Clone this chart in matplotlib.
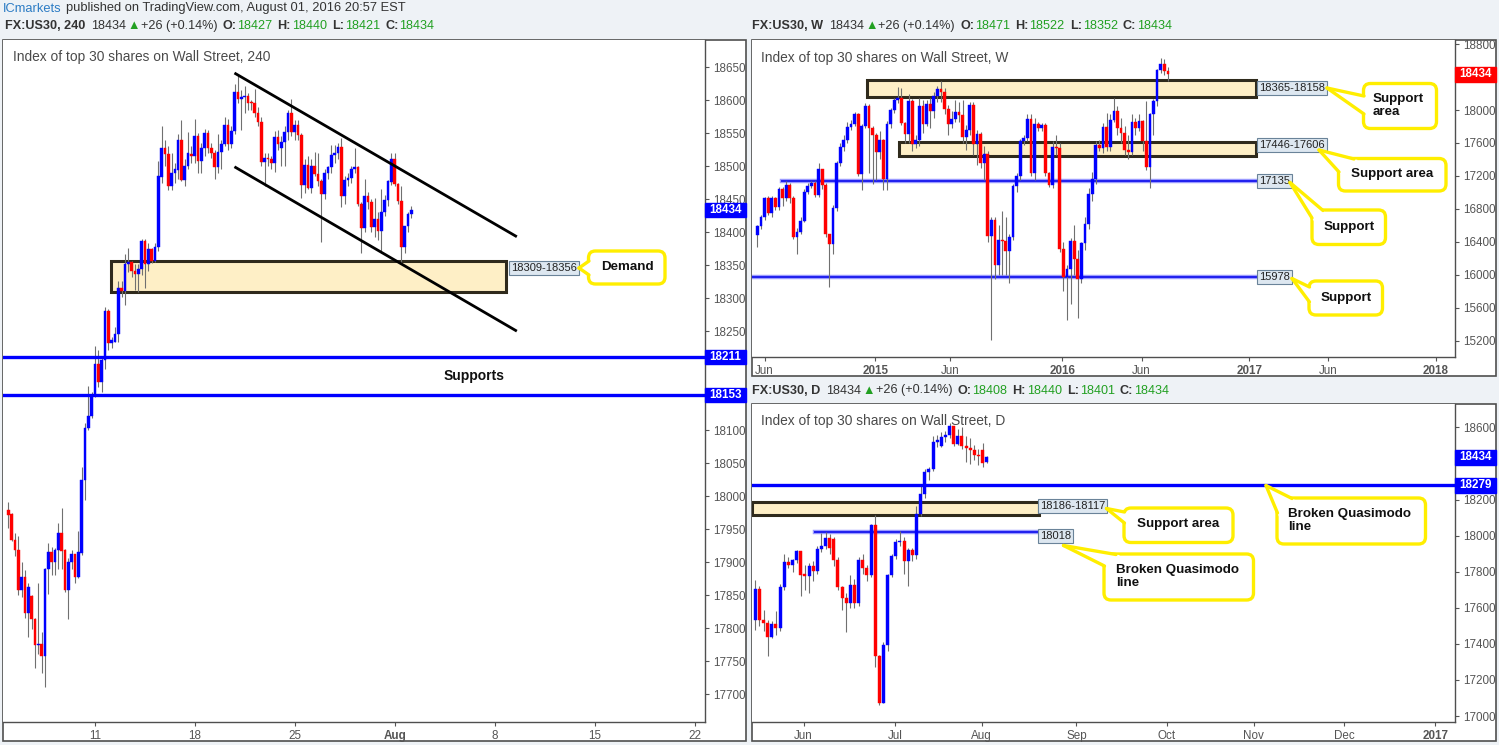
import matplotlib
matplotlib.use('Agg')
import matplotlib.pyplot as plt
from matplotlib.patches import Rectangle, FancyBboxPatch, Polygon
from matplotlib.lines import Line2D
import matplotlib.transforms as mtransforms
import numpy as np

plt.rcParams['font.family'] = ['Liberation Sans', 'DejaVu Sans']

# ---------------- DATA ----------------
# 4-hour chart (Jul 6 - Aug 1 2016)
h4_open = [17979, 17973, 17934, 17919, 17858, 17877, 17823, 17849, 17814, 17774, 17776, 17758, 17889, 17916, 17900,
           17918, 17945, 17918, 17858, 17901, 17912, 17878, 17914, 18025, 18104, 18121, 18154, 18201, 18173, 18206,
           18280, 18232, 18234, 18245, 18315, 18311, 18351, 18355, 18341, 18337, 18344, 18386, 18351, 18374, 18356,
           18377, 18484, 18527, 18518, 18470, 18490, 18494, 18539, 18479, 18500, 18519, 18516, 18545, 18508, 18527,
           18550, 18528, 18520, 18499, 18522, 18534, 18562, 18534, 18553, 18612, 18601, 18604, 18606, 18596, 18595,
           18581, 18567, 18506, 18513, 18510, 18504, 18544, 18528, 18537, 18551, 18580, 18551, 18562, 18547, 18471,
           18502, 18467, 18500, 18488, 18478, 18457, 18490, 18498, 18517, 18520, 18529, 18455, 18479, 18482, 18495,
           18499, 18443, 18407, 18454, 18446, 18408, 18420, 18402, 18430, 18448, 18476, 18511, 18473, 18447, 18377,
           18409, 18427]
h4_high = [17991, 17975, 17944, 17939, 17900, 17888, 17868, 17851, 17816, 17869, 17794, 17892, 17929, 17923, 17922,
           17960, 17982, 17920, 17906, 17919, 17913, 17947, 18044, 18111, 18167, 18158, 18227, 18222, 18211, 18286,
           18283, 18241, 18257, 18326, 18326, 18367, 18376, 18356, 18351, 18351, 18389, 18389, 18383, 18376, 18383,
           18508, 18561, 18540, 18530, 18520, 18505, 18548, 18570, 18510, 18552, 18530, 18571, 18550, 18535, 18556,
           18555, 18535, 18525, 18549, 18540, 18574, 18572, 18560, 18625, 18638, 18615, 18621, 18610, 18600, 18617,
           18590, 18575, 18520, 18520, 18515, 18553, 18555, 18545, 18561, 18585, 18601, 18570, 18570, 18550, 18510,
           18515, 18510, 18522, 18520, 18480, 18495, 18500, 18532, 18532, 18535, 18543, 18485, 18490, 18500, 18527,
           18500, 18445, 18480, 18461, 18450, 18452, 18430, 18466, 18456, 18479, 18520, 18520, 18475, 18470, 18410,
           18430, 18440]
h4_low = [17952, 17932, 17909, 17850, 17847, 17815, 17787, 17799, 17740, 17761, 17732, 17711, 17852, 17881, 17880,
          17890, 17890, 17855, 17814, 17889, 17868, 17876, 17911, 17994, 18100, 18118, 18151, 18165, 18158, 18192,
          18221, 18224, 18233, 18234, 18302, 18290, 18340, 18332, 18312, 18310, 18335, 18316, 18341, 18353, 18354,
          18372, 18474, 18500, 18464, 18464, 18475, 18480, 18477, 18470, 18495, 18505, 18505, 18490, 18490, 18515,
          18520, 18512, 18481, 18490, 18495, 18530, 18525, 18528, 18548, 18595, 18555, 18580, 18585, 18585, 18575,
          18560, 18500, 18470, 18500, 18495, 18491, 18525, 18500, 18500, 18540, 18545, 18540, 18540, 18452, 18460,
          18465, 18460, 18485, 18470, 18385, 18450, 18480, 18490, 18505, 18510, 18438, 18443, 18470, 18475, 18490,
          18440, 18368, 18400, 18435, 18400, 18393, 18388, 18368, 18425, 18440, 18471, 18470, 18443, 18353, 18368,
          18400, 18421]
h4_close = [17971, 17933, 17919, 17858, 17877, 17823, 17863, 17814, 17774, 17776, 17758, 17889, 17916, 17900, 17918,
            17945, 17917, 17858, 17901, 17912, 17878, 17915, 18025, 18104, 18121, 18154, 18201, 18173, 18206, 18280,
            18232, 18236, 18245, 18315, 18311, 18351, 18355, 18341, 18337, 18344, 18386, 18351, 18374, 18356, 18377,
            18485, 18527, 18518, 18470, 18490, 18495, 18539, 18479, 18500, 18520, 18516, 18545, 18508, 18527, 18550,
            18528, 18520, 18499, 18522, 18534, 18562, 18534, 18553, 18612, 18601, 18604, 18606, 18596, 18595, 18581,
            18567, 18506, 18513, 18510, 18504, 18544, 18534, 18537, 18551, 18580, 18551, 18562, 18547, 18471, 18502,
            18467, 18500, 18488, 18478, 18457, 18490, 18498, 18517, 18520, 18529, 18455, 18479, 18482, 18495, 18499,
            18443, 18407, 18454, 18446, 18408, 18420, 18402, 18430, 18448, 18478, 18511, 18473, 18447, 18377, 18409,
            18427, 18434]
h4_xticks = ['11', '18', '25', 'Aug', '8', '15', '22']
h4_yticks = list(range(17700, 18651, 50))

# Weekly chart (Jun 2014 - Aug 2016)
wk_open = [16478, 16595, 16697, 16928, 16750, 16928, 16823, 17038, 16928, 17087, 16928, 16457, 16514, 16656, 17001,
           17074, 17111, 16965, 17286, 17087, 16494, 16372, 16806, 17355, 17550, 17635, 17793, 17830, 17947, 17225,
           17805, 18049, 17785, 17696, 17493, 17635, 17168, 17826, 17996, 18118, 18150, 17846, 17712, 18110, 17582,
           17640, 18049, 17826, 18077, 17988, 18171, 18252, 18223, 18016, 17826, 17887, 17976, 17939, 17671, 17753,
           18061, 17582, 17704, 17359, 17472, 16474, 16669, 16120, 16425, 16405, 16291, 16457, 17074, 17196, 17623,
           17663, 17887, 17237, 17826, 17785, 17813, 17237, 17087, 17550, 17533, 16315, 15978, 16072, 16413, 16193,
           15950, 16384, 16612, 16977, 17168, 17574, 17541, 17793, 17550, 17882, 17988, 17777, 17724, 17517, 17493,
           17854, 17785, 17866, 17623, 17310, 17947, 18110, 18483, 18560, 18471]
wk_high = [16610, 16720, 16950, 16960, 16960, 16950, 17060, 17060, 17135, 17120, 16960, 16570, 16700, 17040, 17110,
           17140, 17140, 17359, 17290, 17110, 16500, 16850, 17380, 17600, 17700, 17850, 17880, 17980, 17960, 17830,
           18080, 18070, 17800, 17720, 17750, 17650, 17870, 18020, 18140, 18280, 18270, 17860, 18200, 18130, 17700,
           18150, 18120, 18120, 18150, 18220, 18290, 18351, 18270, 18060, 17990, 18120, 18100, 18120, 17820, 18100,
           18100, 17760, 17730, 17560, 17500, 16700, 16700, 16600, 16780, 16700, 16500, 17100, 17230, 17650, 17700,
           17950, 17950, 17900, 17860, 17840, 17840, 17250, 17630, 17700, 17600, 16400, 16120, 16450, 16600, 16300,
           16400, 16700, 17050, 17250, 17620, 17640, 17840, 17960, 17950, 18150, 18050, 17900, 17800, 17700, 17950,
           17900, 17950, 17880, 18110, 17960, 18130, 18500, 18628, 18622, 18522]
wk_low = [16336, 16560, 16660, 16720, 16700, 16790, 16790, 16830, 16900, 16870, 16430, 16250, 16490, 16640, 16980,
          17050, 16940, 16940, 17040, 16460, 15848, 16250, 16780, 17320, 17500, 17600, 17760, 17800, 17200, 17034,
          17780, 17237, 17100, 17150, 17400, 17034, 17030, 17780, 17960, 18080, 17820, 17600, 17600, 17500, 17540,
          17560, 17720, 17800, 17780, 17900, 18100, 18100, 17950, 17700, 17780, 17860, 17850, 17600, 17520, 17700,
          17460, 17330, 17300, 17150, 16400, 15205, 15950, 16000, 16000, 16000, 15897, 16420, 17000, 17150, 17580,
          17620, 17200, 17150, 17750, 17740, 17200, 17070, 17050, 17450, 16280, 15800, 15450, 15650, 16000, 15471,
          15900, 16300, 16550, 16900, 17100, 17500, 17480, 17500, 17500, 17850, 17700, 17600, 17450, 17400, 17450,
          17700, 17750, 17500, 17278, 17054, 17700, 18050, 18450, 18420, 18352]
wk_close = [16595, 16697, 16928, 16750, 16928, 16823, 17038, 16928, 17087, 16928, 16457, 16514, 16656, 17001, 17074,
            17111, 16965, 17286, 17087, 16494, 16372, 16806, 17355, 17550, 17635, 17793, 17830, 17947, 17225, 17805,
            18049, 17785, 17696, 17493, 17635, 17168, 17826, 17996, 18118, 18150, 17846, 17712, 18110, 17582, 17640,
            18049, 17826, 18069, 17988, 18171, 18252, 18223, 18016, 17826, 17887, 17976, 17939, 17671, 17753, 18061,
            17582, 17704, 17359, 17472, 16474, 16669, 16120, 16425, 16405, 16291, 16457, 17074, 17196, 17623, 17663,
            17887, 17237, 17826, 17785, 17813, 17237, 17087, 17550, 17533, 16315, 15978, 16072, 16413, 16193, 15950,
            16384, 16612, 16977, 17168, 17574, 17541, 17793, 17550, 17882, 17988, 17777, 17724, 17517, 17493, 17854,
            17785, 17866, 17623, 17310, 17947, 18110, 18483, 18560, 18471, 18434]
wk_xticks = ['Jun', '2015', 'Jun', '2016', 'Jun', '2017', 'Jun', '2018']
wk_yticks = list(range(15200, 18801, 400))

# Daily chart (May - Aug 2016)
d_open = [17534, 17704, 17530, 17515, 17441, 17510, 17488, 17715, 17852, 17837, 17866, 17913, 17783, 17778, 17833,
          17805, 17926, 17940, 17987, 17981, 17866, 17715, 17654, 17626, 17728, 17626, 17866, 17820, 17783, 18060,
          17331, 17075, 17395, 17783, 17889, 17963, 17972, 17857, 17918, 17894, 18121, 18230, 18354, 18371, 18517,
          18498, 18547, 18559, 18606, 18508, 18550, 18495, 18486, 18476, 18449, 18473, 18408]
d_high = [17755, 17720, 17590, 17535, 17525, 17580, 17730, 17900, 17880, 17870, 17920, 17913, 17840, 17850, 17860,
          17940, 18015, 18020, 18010, 17990, 17880, 17720, 17680, 17780, 17760, 17880, 17900, 17840, 18066, 18115,
          17340, 17410, 17790, 17900, 17980, 18025, 17990, 17930, 17930, 18165, 18282, 18370, 18380, 18555, 18560,
          18575, 18580, 18622, 18610, 18590, 18605, 18550, 18540, 18500, 18480, 18515, 18440]
d_low = [17478, 17500, 17470, 17331, 17430, 17450, 17470, 17700, 17820, 17800, 17850, 17665, 17700, 17680, 17750,
         17790, 17910, 17925, 17900, 17830, 17700, 17590, 17465, 17600, 17600, 17610, 17790, 17750, 17770, 17270,
         17062, 17070, 17360, 17770, 17870, 17940, 17790, 17720, 17860, 17870, 18110, 18210, 18310, 18360, 18490,
         18490, 18520, 18540, 18495, 18500, 18480, 18410, 18400, 18420, 18390, 18380, 18401]
d_close = [17704, 17530, 17515, 17441, 17510, 17488, 17715, 17852, 17837, 17866, 17913, 17783, 17778, 17833, 17805,
           17926, 17940, 17987, 17931, 17866, 17715, 17654, 17626, 17728, 17626, 17866, 17820, 17783, 18060, 17331,
           17075, 17395, 17783, 17889, 17963, 17972, 17857, 17918, 17894, 18121, 18230, 18354, 18371, 18517, 18530,
           18547, 18559, 18606, 18508, 18550, 18495, 18486, 18476, 18449, 18439, 18402, 18434]
d_xticks = ['Jun', 'Jul', 'Aug', 'Sep', 'Oct', 'Nov', 'Dec', '2017']
d_yticks = list(range(17000, 18601, 200))

last_price = 18434

# ---------------- FIGURE ----------------
W, H = 1499, 745
fig = plt.figure(figsize=(W / 100, H / 100), dpi=100)
fig.patch.set_facecolor('#eef2f6')

bg = fig.add_axes([0, 0, 1, 1], zorder=0)
bg.set_xlim(0, W); bg.set_ylim(H, 0); bg.axis('off')
for (x0, y0, x1, y1) in [(3, 40, 746, 741), (752, 40, 1496, 376), (752, 404, 1496, 741)]:
    bg.add_patch(Rectangle((x0, y0), x1 - x0, y1 - y0, fc='white', ec='#4f4f4f', lw=1.2))


def px_axes(x0, y0, x1, y1):
    return fig.add_axes([x0 / W, (H - y1) / H, (x1 - x0) / W, (y1 - y0) / H], zorder=1)


ax1 = px_axes(3, 40, 705, 722)
ax2 = px_axes(752, 40, 1455, 357)
ax3 = px_axes(752, 404, 1455, 722)

GREY = '#555555'


def style(ax, xt_pos, xt_lab, yt, ylim, xlim, bold_labels, hide=()):
    ax.set_xlim(*xlim)
    ax.set_ylim(*ylim)
    ax.yaxis.tick_right()
    ax.set_yticks(yt)
    ax.set_yticklabels(['' if v in hide else str(v) for v in yt])
    ax.set_xticks(xt_pos)
    ax.set_xticklabels(xt_lab)
    ax.tick_params(axis='y', colors=GREY, labelsize=8.4, length=3, pad=3, width=0.8)
    ax.tick_params(axis='x', colors=GREY, labelsize=8.4, length=3, pad=3, width=0.8)
    for lab in ax.get_xticklabels():
        if lab.get_text() in bold_labels:
            lab.set_fontweight('bold')
    for s in ['left', 'top']:
        ax.spines[s].set_visible(False)
    for s in ['right', 'bottom']:
        ax.spines[s].set_color('#4f4f4f')
        ax.spines[s].set_linewidth(1.0)


def candles(ax, o, h, l, c, width, minh):
    o = np.asarray(o, float); h = np.asarray(h, float)
    l = np.asarray(l, float); c = np.asarray(c, float)
    x = np.arange(len(o))
    cols = np.where(c >= o, '#0000ff', '#ff0000')
    ax.vlines(x, l, h, color='#707070', lw=0.8, zorder=3)
    bottom = np.minimum(o, c)
    height = np.maximum(np.abs(c - o), minh)
    ax.bar(x, height, width, bottom, color=cols, edgecolor=cols, lw=0.3, zorder=4)


def ptag(ax, price, col, halfh, wfrac):
    tr = mtransforms.blended_transform_factory(ax.transAxes, ax.transData)
    ax.add_patch(Rectangle((1.0, price - halfh), wfrac, 2 * halfh, transform=tr, fc=col, ec=col,
                           clip_on=False, zorder=10))
    ax.text(1.0 + wfrac / 2, price, str(price), transform=tr, ha='center', va='center', color='white',
            fontsize=8.4, fontweight='bold', clip_on=False, zorder=11)


LBL = dict(boxstyle='square,pad=0.18', fc='#dde7f0', ec='#6a8399', lw=0.8)
ZONE_FC = '#feefc6'
ZONE_EC = '#2f2a1c'

# ---- Left 4h panel ----
style(ax1, [26.0, 56.1, 86.1, 116.1, 146.1, 176.2, 206.2], h4_xticks, h4_yticks,
      (17658, 18691), (-1.6, 209.2), ['Aug'], hide=(18150, 18200))
candles(ax1, h4_open, h4_high, h4_low, h4_close, 0.8, 2.0)
ax1.add_patch(Rectangle((30.8, 18309), 118.7, 47, fc=ZONE_FC, ec=ZONE_EC, lw=2.2, zorder=1))
ax1.text(151.0, 18345, '18309-18356', fontsize=8, color='#222222', ha='left', va='center', bbox=LBL, zorder=6)
ax1.plot([67.9, 152.7], [18641, 18393], color='black', lw=2.0, zorder=5, solid_capstyle='butt')
ax1.plot([67.9, 152.7], [18499, 18250], color='black', lw=2.0, zorder=5, solid_capstyle='butt')
for lv in [18211, 18153]:
    ax1.axhline(lv, color='#0000ff', lw=2.4, zorder=5)
    ptag(ax1, lv, '#0000ff', 10.5, 41 / 702)
ptag(ax1, last_price, '#0000ff', 10.5, 41 / 702)
ax1.text(140, 18182, 'Supports', fontsize=10, fontweight='bold', color='#111111', ha='center', va='center',
         zorder=6)

# ---- Weekly panel ----
style(ax2, [2.0, 32.8, 53.5, 84.7, 106.7, 136.6, 158.5, 188.4], wk_xticks, wk_yticks,
      (15002, 18850), (-1.5, 193.75), ['2015', '2016', '2017', '2018'], hide=(18400,))
candles(ax2, wk_open, wk_high, wk_low, wk_close, 0.75, 18)
ax2.add_patch(Rectangle((30.5, 18158), 108.1, 207, fc=ZONE_FC, ec=ZONE_EC, lw=2.2, zorder=1))
ax2.add_patch(Rectangle((39.4, 17446), 99.2, 160, fc=ZONE_FC, ec=ZONE_EC, lw=2.2, zorder=1))
ax2.text(139.3, 18262, '18365-18158', fontsize=8, color='#222222', ha='left', va='center', bbox=LBL, zorder=6)
ax2.text(139.3, 17580, '17446-17606', fontsize=8, color='#222222', ha='left', va='center', bbox=LBL, zorder=6)
for lv, xs in [(17135, 6.75), (15978, -1.5)]:
    ax2.plot([xs, 138.6], [lv, lv], color='#9a9aff', lw=3.2, zorder=2)
    ax2.plot([xs, 138.6], [lv, lv], color='#1f1fee', lw=1.4, zorder=2)
    ax2.text(139.3, lv, str(lv), fontsize=8, color='#222222', ha='left', va='center', bbox=LBL, zorder=6)
ptag(ax2, last_price, '#ff0000', 88, 41 / 703)

# ---- Daily panel ----
style(ax3, [11.7, 33.85, 54.8, 77.7, 99.6, 120.6, 142.5, 164.5], d_xticks, d_yticks,
      (16967, 18730), (-0.8, 169.3), ['2017'], hide=(18400,))
candles(ax3, d_open, d_high, d_low, d_close, 0.72, 8)
ax3.add_patch(Rectangle((-0.8, 18117), 69.4, 69, fc=ZONE_FC, ec=ZONE_EC, lw=2.2, zorder=1))
ax3.text(68.9, 18167, '18186-18117', fontsize=8, color='#222222', ha='left', va='center', bbox=LBL, zorder=6)
ax3.plot([14.5, 68.6], [18018, 18018], color='#9a9aff', lw=3.2, zorder=2)
ax3.plot([14.5, 68.6], [18018, 18018], color='#1f1fee', lw=1.4, zorder=2)
ax3.text(68.9, 17997, '18018', fontsize=8, color='#222222', ha='left', va='center', bbox=LBL, zorder=6)
ax3.axhline(18279, color='#0000ff', lw=2.4, zorder=5)
ptag(ax3, 18279, '#0000ff', 40, 41 / 703)
ptag(ax3, last_price, '#0000ff', 40, 41 / 703)

# ---------------- OVERLAY (titles, header, callouts) ----------------
fg = fig.add_axes([0, 0, 1, 1], zorder=5)
fg.set_xlim(0, W); fg.set_ylim(H, 0); fg.axis('off')
fg.patch.set_alpha(0)

renderer = fig.canvas.get_renderer()
DARK = '#333333'
GREEN = '#22a022'


def runs(x, y, parts, size=9.1):
    for txt, col, wt, gap in parts:
        t = fg.text(x, y, txt, color=col, fontsize=size, fontweight=wt, va='center', ha='left')
        bb = t.get_window_extent(renderer=renderer)
        x += bb.width + gap


runs(3, 8.5, [('ICmarkets', '#2c7cc4', 'normal', 4),
              ('published on TradingView.com, August 01, 2016 20:57 EST', DARK, 'normal', 0)], size=9.3)


def ohlc_header(x, y, name, o, h, l, c):
    runs(x, y, [(name, DARK, 'bold', 6), ('18434', DARK, 'normal', 1), ('\u25B2', GREEN, 'normal', 1),
                ('+26 (+0.14%)', DARK, 'normal', 5),
                ('O:', DARK, 'bold', 1), (o, GREEN, 'normal', 5),
                ('H:', DARK, 'bold', 1), (h, GREEN, 'normal', 5),
                ('L:', DARK, 'bold', 1), (l, GREEN, 'normal', 5),
                ('C:', DARK, 'bold', 1), (c, GREEN, 'normal', 0)])


ohlc_header(5, 26, 'FX:US30, 240', '18427', '18440', '18421', '18434')
ohlc_header(752, 26, 'FX:US30, W', '18471', '18522', '18352', '18434')
ohlc_header(752, 390.5, 'FX:US30, D', '18408', '18440', '18401', '18434')

TCOL = '#4a4a4a'
fg.text(13, 57, 'Index of top 30 shares on Wall Street, 240', fontsize=9.9, color=TCOL, va='center', ha='left')
fg.text(761, 58, 'Index of top 30 shares on Wall Street, W', fontsize=9.9, color=TCOL, va='center', ha='left')
fg.text(761, 421.5, 'Index of top 30 shares on Wall Street, D', fontsize=9.9, color=TCOL, va='center', ha='left')

YEL = '#ffee00'


def callout(box, tip, base, lines, tx, ty, ha='center', dy=12.5):
    x0, y0, x1, y1 = box
    fg.add_patch(FancyBboxPatch((x0, y0), x1 - x0, y1 - y0, boxstyle='round,pad=0,rounding_size=7',
                                fc='white', ec=YEL, lw=2.4, zorder=7))
    tipv = np.array(tip, float)
    inner = []
    for b in base:
        bv = np.array(b, float)
        d = (bv - tipv) / np.hypot(*(bv - tipv))
        inner.append(bv + 4 * d)
    fg.add_patch(Polygon([tip, inner[0], inner[1]], closed=True, fc='white', ec='none', zorder=8))
    for b in base:
        fg.add_line(Line2D([tip[0], b[0]], [tip[1], b[1]], color=YEL, lw=2.4, zorder=9,
                           solid_capstyle='round'))
    n = len(lines)
    for k, s in enumerate(lines):
        fg.text(tx, ty + (k - (n - 1) / 2) * dy, s, fontsize=9.6, fontweight='bold', color='#111111',
                ha=ha, va='center', zorder=10)


callout((588.5, 251, 665, 284), (579, 268), [(589, 261), (589, 275)], ['Demand'], 627, 267.5)
callout((1363.5, 83.5, 1436.5, 128.5), (1327, 88), [(1364, 96), (1364, 114)], ['Support', 'area'],
        1373, 105.5, ha='left', dy=12.8)
callout((1338.5, 158.5, 1446, 191), (1319, 150), [(1339, 172), (1354, 159)], ['Support area'], 1392, 174)
callout((1312, 210, 1385.5, 244.5), (1290, 182.5), [(1312, 218), (1323, 210.5)], ['Support'], 1349, 227)
callout((1309, 281, 1382.5, 315), (1292, 278.5), [(1309.5, 287), (1309.5, 302)], ['Support'], 1346, 297.5)
callout((1124, 508, 1233, 542.5), (1106.5, 508.5), [(1124.5, 512), (1124.5, 523)], ['Support area'],
        1178.5, 524.5)
callout((1277, 498, 1425.5, 544), (1266, 485.5), [(1277.5, 513), (1292, 498.5)],
        ['Broken Quasimodo', 'line'], 1288, 520.5, ha='left')
callout((1104, 554, 1253.5, 600), (1063.5, 545.5), [(1104.5, 566), (1116, 554.5)],
        ['Broken Quasimodo', 'line'], 1116, 576.5, ha='left')

fig.savefig('out.png', dpi=100, facecolor=fig.get_facecolor())
